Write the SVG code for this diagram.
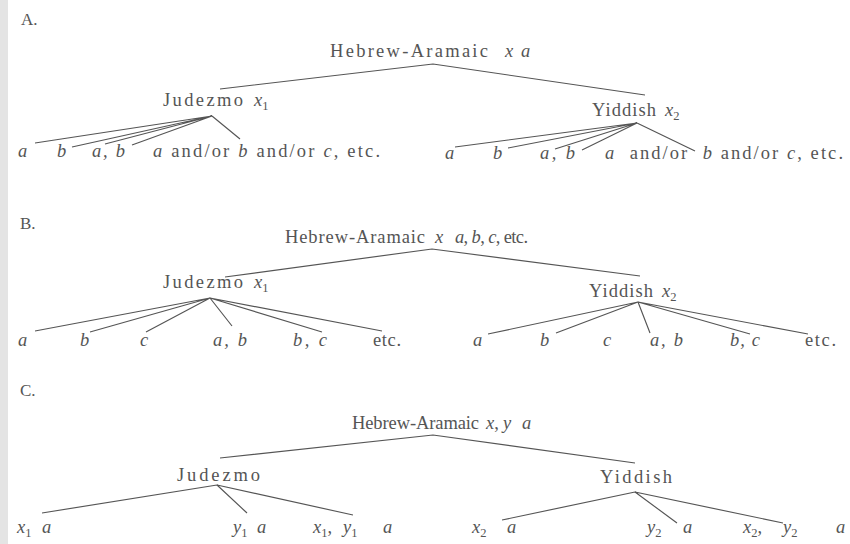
<svg xmlns="http://www.w3.org/2000/svg" width="850" height="544" viewBox="0 0 850 544">
<style>
text{font-family:"Liberation Serif","Times New Roman",serif;font-size:18.5px;fill:#555}
.i{font-style:italic}
.sub{font-size:12.5px}
.hd{font-size:17px}
#connectors path{fill:none;stroke:#555;stroke-width:1.15}
</style>
<rect x="0" y="0" width="850" height="544" fill="#fff"/>
<rect x="0" y="0" width="8" height="544" fill="#e4e4e4"/>

<g id="connectors">
  <path d="M220,89 L433,64 L645,95"/>
  <path d="M212,116 L35,143 M212,116 L72,147 M212,116 L105,144 M212,116 L132,145 M212,116 L240,139"/>
  <path d="M637,123 L455,147 M637,123 L508,148 M637,123 L555,149 M637,123 L582,150 M637,123 L695,151"/>
  <path d="M225,277 L432,249 L640,276"/>
  <path d="M210,298 L35,331 M210,298 L90,332 M210,298 L146,332 M210,298 L232,326 M210,298 L322,332 M210,298 L382,331"/>
  <path d="M638,302 L488,334 M638,302 L556,333 M638,302 L650,333 M638,302 L750,334 M638,302 L808,334"/>
  <path d="M220,458 L433,435 L635,463"/>
  <path d="M217,485 L42,513 M217,485 L247,513 M217,485 L353,515"/>
  <path d="M635,492 L502,520 M635,492 L677,523 M635,492 L783,523"/>
</g>

<g id="section-A">
  <text class="hd" x="21" y="25">A.</text>
  <g id="A-root"><text x="330" y="57"><tspan textLength="158" lengthAdjust="spacing">Hebrew-Aramaic</tspan><tspan class="i" x="505">x</tspan><tspan class="i" x="521">a</tspan></text></g>
  <g id="A-judezmo"><text x="163" y="106"><tspan textLength="80" lengthAdjust="spacing">Judezmo</tspan><tspan class="i" x="254">x</tspan><tspan class="sub" dy="4">1</tspan></text></g>
  <g id="A-yiddish"><text x="592" y="116"><tspan textLength="64" lengthAdjust="spacing">Yiddish</tspan><tspan class="i" x="665">x</tspan><tspan class="sub" dy="4">2</tspan></text></g>
  <g id="A-j-a"><text x="18" y="157" class="i">a</text></g>
  <g id="A-j-b"><text x="57" y="157" class="i">b</text></g>
  <g id="A-j-ab"><text x="92" y="157" class="i" textLength="33" lengthAdjust="spacing">a, b</text></g>
  <g id="A-j-etc"><text x="153" y="157" textLength="227" lengthAdjust="spacing"><tspan class="i">a</tspan> and/or <tspan class="i">b</tspan> and/or <tspan class="i">c</tspan>, etc.</text></g>
  <g id="A-y-a"><text x="445" y="159" class="i">a</text></g>
  <g id="A-y-b"><text x="493" y="159" class="i">b</text></g>
  <g id="A-y-ab"><text x="540" y="159" class="i" textLength="35" lengthAdjust="spacing">a, b</text></g>
  <g id="A-y-etc"><text x="605" y="159" textLength="238" lengthAdjust="spacing" xml:space="preserve"><tspan class="i">a</tspan>  and/or  <tspan class="i">b</tspan> and/or <tspan class="i">c</tspan>, etc.</text></g>
</g>

<g id="section-B">
  <text class="hd" x="20" y="229">B.</text>
  <g id="B-root"><text x="285" y="243"><tspan textLength="140" lengthAdjust="spacing">Hebrew-Aramaic</tspan><tspan class="i" x="435">x</tspan><tspan x="455" textLength="73" lengthAdjust="spacing"><tspan class="i">a</tspan>, <tspan class="i">b</tspan>, <tspan class="i">c</tspan>, etc.</tspan></text></g>
  <g id="B-judezmo"><text x="163" y="288"><tspan textLength="80" lengthAdjust="spacing">Judezmo</tspan><tspan class="i" x="254">x</tspan><tspan class="sub" dy="4">1</tspan></text></g>
  <g id="B-yiddish"><text x="589" y="297"><tspan textLength="64" lengthAdjust="spacing">Yiddish</tspan><tspan class="i" x="662">x</tspan><tspan class="sub" dy="4">2</tspan></text></g>
  <g id="B-j-a"><text x="18" y="346" class="i">a</text></g>
  <g id="B-j-b"><text x="80" y="346" class="i">b</text></g>
  <g id="B-j-c"><text x="140" y="346" class="i">c</text></g>
  <g id="B-j-ab"><text x="213" y="346" class="i" textLength="34" lengthAdjust="spacing">a, b</text></g>
  <g id="B-j-bc"><text x="293" y="346" class="i" textLength="34" lengthAdjust="spacing">b, c</text></g>
  <g id="B-j-etc"><text x="373" y="346" textLength="28" lengthAdjust="spacing">etc.</text></g>
  <g id="B-y-a"><text x="473" y="346" class="i">a</text></g>
  <g id="B-y-b"><text x="540" y="346" class="i">b</text></g>
  <g id="B-y-c"><text x="603" y="346" class="i">c</text></g>
  <g id="B-y-ab"><text x="650" y="346" class="i" textLength="33" lengthAdjust="spacing">a, b</text></g>
  <g id="B-y-bc"><text x="730" y="346" class="i" textLength="30" lengthAdjust="spacing">b, c</text></g>
  <g id="B-y-etc"><text x="805" y="346" textLength="31" lengthAdjust="spacing">etc.</text></g>
</g>

<g id="section-C">
  <text class="hd" x="20" y="396">C.</text>
  <g id="C-root"><text x="352" y="429"><tspan textLength="127" lengthAdjust="spacing">Hebrew-Aramaic</tspan><tspan class="i" x="486">x</tspan><tspan>,</tspan><tspan class="i" x="503">y</tspan><tspan class="i" x="522">a</tspan></text></g>
  <g id="C-judezmo"><text x="177" y="481" textLength="83" lengthAdjust="spacing">Judezmo</text></g>
  <g id="C-yiddish"><text x="600" y="483" textLength="72" lengthAdjust="spacing">Yiddish</text></g>
  <g id="C-j-x"><text x="17" y="533"><tspan class="i">x</tspan><tspan class="sub" dy="4">1</tspan><tspan class="i" x="42" dy="-4">a</tspan></text></g>
  <g id="C-j-y"><text x="233" y="533"><tspan class="i">y</tspan><tspan class="sub" dy="4">1</tspan><tspan class="i" x="257" dy="-4">a</tspan></text></g>
  <g id="C-j-xy"><text x="313" y="533"><tspan class="i">x</tspan><tspan class="sub" dy="4">1</tspan><tspan dy="-4">,</tspan><tspan class="i" x="343">y</tspan><tspan class="sub" dy="4">1</tspan><tspan class="i" x="383" dy="-4">a</tspan></text></g>
  <g id="C-y-x"><text x="472" y="533"><tspan class="i">x</tspan><tspan class="sub" dy="4">2</tspan><tspan class="i" x="507" dy="-4">a</tspan></text></g>
  <g id="C-y-y"><text x="647" y="533"><tspan class="i">y</tspan><tspan class="sub" dy="4">2</tspan><tspan class="i" x="683" dy="-4">a</tspan></text></g>
  <g id="C-y-xy"><text x="743" y="533"><tspan class="i">x</tspan><tspan class="sub" dy="4">2</tspan><tspan dy="-4">,</tspan><tspan class="i" x="783">y</tspan><tspan class="sub" dy="4">2</tspan><tspan class="i" x="836" dy="-4">a</tspan></text></g>
</g>
</svg>
